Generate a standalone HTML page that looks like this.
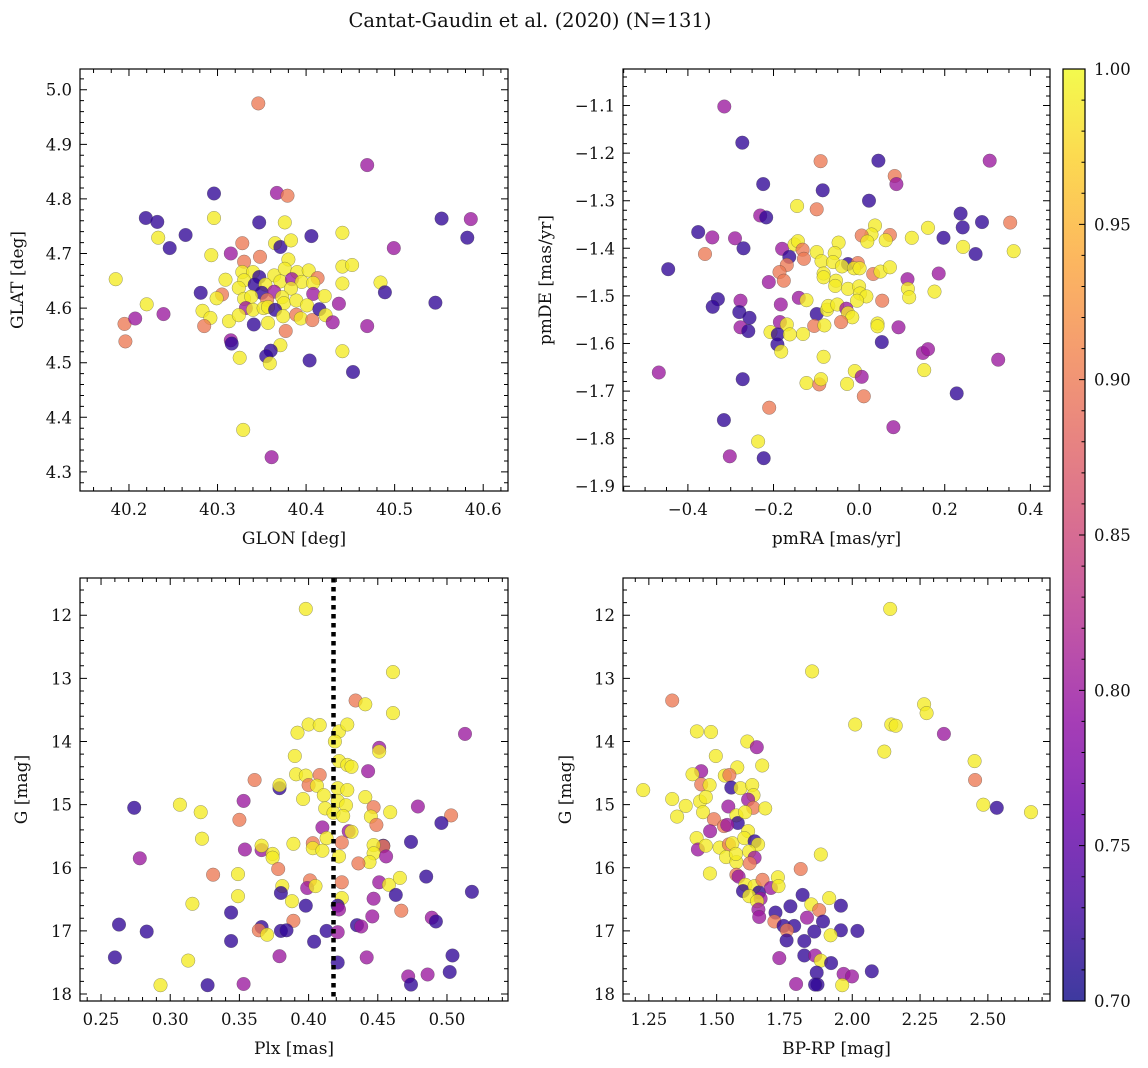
<!DOCTYPE html>
<html><head><meta charset="utf-8">
<style>
html,body{margin:0;padding:0;background:#fff;}
svg{display:block;font-family:"DejaVu Serif","Liberation Serif",serif;}
</style></head>
<body>
<svg id="fig" width="1148" height="1068" viewBox="0 0 1148 1068" xmlns="http://www.w3.org/2000/svg">
<rect width="1148" height="1068" fill="#fff"/>
<text x="530" y="27" font-size="19.5" text-anchor="middle" fill="#111">Cantat-Gaudin et al. (2020) (N=131)</text>
</svg>
<script>
// ---- data (value arrays: x, y, membership probability) ----
const glon = [40.346,40.469,40.296,40.367,40.379,40.219,40.232,40.296,40.347,40.376,40.553,40.586,40.233,40.264,40.406,40.441,40.582,40.246,40.328,40.365,40.371,40.383,40.499,40.293,40.315,40.348,40.330,40.380,40.185,40.328,40.340,40.347,40.364,40.376,40.390,40.403,40.413,40.441,40.452,40.309,40.330,40.342,40.354,40.371,40.384,40.395,40.408,40.441,40.484,40.281,40.305,40.299,40.324,40.350,40.383,40.364,40.408,40.421,40.489,40.546,40.220,40.330,40.338,40.332,40.356,40.373,40.375,40.389,40.401,40.437,40.195,40.207,40.239,40.283,40.292,40.313,40.324,40.340,40.352,40.357,40.365,40.374,40.389,40.394,40.407,40.415,40.422,40.430,40.469,40.285,40.196,40.341,40.357,40.377,40.315,40.316,40.371,40.441,40.360,40.355,40.325,40.359,40.404,40.453,40.329,40.361];
const glat = [4.975,4.862,4.810,4.811,4.806,4.765,4.758,4.765,4.757,4.757,4.764,4.763,4.729,4.734,4.732,4.738,4.729,4.710,4.719,4.719,4.712,4.724,4.710,4.697,4.700,4.694,4.685,4.689,4.653,4.666,4.666,4.657,4.660,4.672,4.666,4.669,4.655,4.676,4.679,4.652,4.651,4.643,4.643,4.649,4.653,4.648,4.646,4.645,4.647,4.628,4.625,4.618,4.637,4.628,4.636,4.630,4.626,4.622,4.629,4.610,4.607,4.617,4.621,4.600,4.615,4.620,4.609,4.614,4.605,4.608,4.571,4.581,4.589,4.595,4.582,4.576,4.587,4.597,4.600,4.602,4.597,4.585,4.588,4.581,4.578,4.598,4.587,4.574,4.567,4.567,4.539,4.570,4.573,4.558,4.541,4.535,4.532,4.521,4.522,4.512,4.509,4.499,4.504,4.483,4.377,4.327];
const prob1 = [.9,.8,.72,.8,.9,.72,.72,.99,.72,.99,.72,.8,.99,.72,.72,.99,.72,.72,.9,.99,.72,.99,.8,.99,.8,.9,.9,.99,.99,.99,.99,.72,.99,.99,.99,.99,.9,.99,.99,.99,.99,.72,.99,.99,.8,.99,.99,.99,.99,.72,.9,.99,.99,.72,.99,.8,.8,.99,.72,.72,.99,.99,.99,.8,.9,.99,.99,.99,.99,.8,.9,.8,.8,.99,.99,.99,.99,.99,.99,.99,.72,.99,.9,.99,.9,.72,.99,.8,.8,.9,.9,.72,.99,.9,.8,.72,.99,.99,.72,.72,.99,.99,.72,.72,.99,.8];

const pmra = [-0.315,-0.273,-0.090,0.045,0.305,0.083,0.087,-0.224,-0.085,0.023,-0.145,-0.099,-0.231,-0.217,0.237,0.287,0.353,-0.376,-0.343,-0.290,0.037,0.161,0.242,0.029,0.006,0.072,0.123,0.197,0.019,0.062,-0.270,-0.180,-0.151,-0.143,-0.048,0.243,0.272,0.361,-0.360,-0.132,-0.129,-0.099,-0.163,-0.088,-0.057,-0.061,-0.026,-0.040,-0.003,-0.012,0.001,-0.169,-0.446,-0.186,-0.083,0.033,0.050,0.072,-0.211,-0.176,-0.083,-0.054,-0.056,-0.026,0.000,0.113,0.186,0.114,0.002,0.017,-0.005,0.117,0.176,0.054,-0.330,-0.342,-0.277,-0.183,-0.141,-0.123,-0.280,-0.256,-0.099,-0.075,-0.072,-0.051,-0.030,-0.026,-0.016,-0.277,-0.259,-0.185,-0.169,-0.105,-0.081,-0.042,0.043,0.043,0.092,-0.207,-0.190,-0.162,-0.131,-0.191,-0.182,0.053,-0.083,0.149,0.161,0.325,-0.468,-0.272,-0.010,0.006,0.152,-0.123,-0.093,-0.089,-0.028,0.011,0.228,-0.210,-0.316,0.080,-0.236,-0.302,-0.223];
const pmde = [-1.102,-1.178,-1.217,-1.216,-1.216,-1.248,-1.265,-1.265,-1.278,-1.300,-1.311,-1.318,-1.331,-1.335,-1.327,-1.345,-1.346,-1.366,-1.377,-1.379,-1.352,-1.357,-1.356,-1.371,-1.373,-1.372,-1.378,-1.378,-1.386,-1.383,-1.400,-1.401,-1.392,-1.385,-1.388,-1.397,-1.412,-1.406,-1.412,-1.403,-1.422,-1.408,-1.418,-1.427,-1.410,-1.429,-1.433,-1.438,-1.431,-1.442,-1.442,-1.435,-1.444,-1.450,-1.453,-1.454,-1.449,-1.440,-1.471,-1.468,-1.461,-1.468,-1.479,-1.485,-1.480,-1.465,-1.453,-1.485,-1.495,-1.501,-1.510,-1.503,-1.491,-1.510,-1.507,-1.523,-1.510,-1.518,-1.504,-1.509,-1.534,-1.546,-1.538,-1.529,-1.521,-1.518,-1.527,-1.536,-1.545,-1.566,-1.574,-1.555,-1.560,-1.563,-1.562,-1.555,-1.558,-1.564,-1.566,-1.576,-1.581,-1.581,-1.580,-1.602,-1.617,-1.597,-1.628,-1.620,-1.612,-1.634,-1.661,-1.675,-1.658,-1.670,-1.656,-1.683,-1.686,-1.675,-1.685,-1.711,-1.705,-1.735,-1.761,-1.776,-1.806,-1.837,-1.841];
const prob2 = [.8,.72,.9,.72,.8,.9,.8,.72,.72,.72,.99,.9,.8,.72,.72,.72,.9,.72,.8,.8,.99,.99,.72,.99,.9,.9,.99,.72,.99,.99,.72,.8,.99,.99,.99,.99,.72,.99,.9,.9,.9,.99,.72,.99,.99,.99,.72,.99,.9,.99,.99,.9,.72,.9,.99,.9,.99,.99,.8,.9,.99,.99,.99,.99,.99,.8,.8,.99,.99,.99,.99,.99,.99,.9,.72,.72,.8,.8,.8,.99,.72,.72,.72,.99,.99,.99,.8,.99,.99,.8,.72,.8,.99,.9,.99,.9,.99,.99,.8,.99,.72,.99,.99,.72,.99,.72,.99,.8,.8,.8,.8,.72,.99,.8,.99,.99,.9,.99,.99,.9,.72,.9,.72,.8,.99,.8,.72];

const plx = [0.398,0.461,0.434,0.441,0.461,0.513,0.392,0.400,0.408,0.422,0.428,0.419,0.451,0.451,0.390,0.422,0.428,0.431,0.443,0.361,0.379,0.379,0.391,0.398,0.408,0.400,0.406,0.411,0.396,0.421,0.428,0.441,0.353,0.274,0.307,0.322,0.350,0.412,0.421,0.427,0.418,0.425,0.447,0.445,0.459,0.479,0.503,0.496,0.410,0.449,0.429,0.431,0.323,0.413,0.389,0.403,0.424,0.474,0.278,0.354,0.366,0.366,0.374,0.374,0.403,0.410,0.422,0.454,0.454,0.447,0.447,0.456,0.444,0.436,0.331,0.349,0.378,0.401,0.399,0.405,0.381,0.380,0.424,0.451,0.458,0.466,0.485,0.463,0.518,0.316,0.349,0.388,0.398,0.424,0.421,0.447,0.422,0.344,0.389,0.446,0.467,0.489,0.492,0.263,0.283,0.366,0.364,0.370,0.380,0.384,0.413,0.421,0.435,0.438,0.344,0.404,0.260,0.313,0.379,0.442,0.504,0.421,0.502,0.472,0.486,0.474,0.293,0.327,0.353];
const gmag3 = [11.90,12.90,13.35,13.41,13.55,13.88,13.86,13.73,13.74,13.84,13.73,14.00,14.10,14.16,14.23,14.31,14.37,14.40,14.47,14.61,14.74,14.69,14.52,14.54,14.53,14.69,14.70,14.85,14.91,14.74,14.77,14.88,14.94,15.05,15.00,15.12,15.24,15.06,14.94,15.01,15.13,15.18,15.04,15.19,15.12,15.03,15.17,15.29,15.36,15.32,15.42,15.43,15.54,15.53,15.62,15.61,15.60,15.59,15.85,15.71,15.72,15.65,15.78,15.84,15.69,15.73,15.82,15.65,15.66,15.64,15.77,15.82,15.91,15.93,16.11,16.10,16.02,16.20,16.32,16.29,16.29,16.40,16.23,16.23,16.27,16.16,16.14,16.43,16.38,16.57,16.45,16.53,16.60,16.48,16.60,16.49,16.66,16.71,16.84,16.77,16.68,16.79,16.85,16.90,17.01,16.94,16.99,17.06,17.00,16.99,17.00,17.02,16.91,16.93,17.16,17.17,17.42,17.47,17.40,17.42,17.39,17.50,17.65,17.72,17.69,17.85,17.86,17.86,17.84];
const prob3 = [.99,.99,.9,.99,.99,.8,.99,.99,.99,.99,.99,.99,.8,.99,.99,.99,.99,.99,.8,.9,.72,.99,.99,.99,.9,.9,.99,.99,.99,.99,.99,.99,.8,.72,.99,.99,.9,.99,.99,.99,.99,.99,.9,.99,.99,.8,.9,.72,.8,.9,.8,.99,.99,.99,.99,.9,.9,.72,.8,.8,.8,.99,.99,.99,.99,.99,.99,.72,.9,.99,.99,.8,.99,.9,.9,.99,.9,.9,.8,.99,.99,.72,.9,.8,.99,.99,.72,.72,.72,.99,.99,.99,.72,.99,.72,.8,.8,.72,.9,.8,.9,.8,.72,.72,.72,.72,.9,.99,.72,.72,.72,.8,.72,.8,.72,.72,.72,.99,.8,.8,.72,.72,.72,.8,.8,.72,.99,.72,.8];

const bprp = [2.140,1.852,1.336,2.265,2.274,2.011,2.144,2.160,2.338,1.427,1.479,1.613,1.648,2.118,1.497,2.451,1.576,1.668,1.443,1.411,1.530,1.547,1.443,1.474,1.554,1.588,1.631,1.636,2.453,1.229,1.336,1.386,1.439,1.460,1.616,1.635,1.543,1.679,2.483,2.533,2.659,1.354,1.450,1.490,1.573,1.578,1.605,1.527,1.539,1.476,1.616,1.426,1.431,1.460,1.511,1.545,1.558,1.602,1.640,1.653,1.535,1.573,1.571,1.620,1.640,1.622,1.884,1.475,1.810,1.573,1.581,1.606,1.597,1.640,1.656,1.669,1.700,1.726,1.728,1.620,1.662,1.649,1.817,1.915,1.958,1.849,1.878,1.772,1.654,1.717,1.657,1.833,1.892,1.713,1.747,1.786,1.759,1.860,1.958,2.019,1.920,1.758,1.823,1.731,1.823,1.863,1.884,1.922,1.869,2.072,1.968,1.999,1.793,1.872,1.863,1.963];
const gmag4 = [11.90,12.89,13.35,13.41,13.55,13.73,13.73,13.75,13.88,13.84,13.85,14.00,14.09,14.16,14.23,14.31,14.41,14.38,14.47,14.52,14.54,14.53,14.68,14.69,14.73,14.74,14.69,14.85,14.61,14.77,14.91,15.02,14.95,14.88,14.92,15.05,15.03,15.06,15.00,15.05,15.12,15.19,15.12,15.23,15.17,15.29,15.12,15.34,15.32,15.42,15.42,15.53,15.71,15.65,15.68,15.63,15.61,15.53,15.58,15.63,15.83,15.91,15.78,15.74,15.84,15.93,15.79,16.09,16.02,16.11,16.14,16.27,16.37,16.29,16.39,16.19,16.32,16.15,16.29,16.45,16.49,16.53,16.43,16.48,16.60,16.58,16.67,16.61,16.66,16.71,16.78,16.79,16.85,16.85,16.92,16.92,16.99,17.01,16.99,17.00,17.07,17.15,17.16,17.43,17.39,17.39,17.47,17.51,17.66,17.64,17.68,17.72,17.84,17.85,17.85,17.86];
const prob4 = [.99,.99,.9,.99,.99,.99,.99,.99,.8,.99,.99,.99,.8,.99,.99,.99,.99,.99,.8,.99,.99,.9,.9,.99,.72,.99,.99,.99,.9,.99,.99,.99,.99,.99,.8,.9,.8,.99,.99,.72,.99,.99,.99,.9,.99,.72,.99,.9,.8,.8,.99,.99,.8,.99,.99,.9,.99,.99,.72,.99,.99,.99,.99,.99,.8,.9,.99,.99,.9,.9,.8,.99,.72,.99,.72,.9,.8,.99,.99,.99,.8,.99,.72,.99,.72,.99,.9,.72,.8,.72,.8,.8,.72,.9,.72,.72,.9,.72,.72,.72,.99,.72,.72,.8,.72,.8,.99,.72,.72,.72,.8,.8,.8,.72,.72,.99];

const plxMedian = 0.418;
const cbarTicks = [0.70,0.75,0.80,0.85,0.90,0.95,1.00];

// ---- rendering ----
const NS = "http://www.w3.org/2000/svg";
const svg = document.getElementById('fig');
function mk(tag, attrs, parent){ const e=document.createElementNS(NS,tag); for(const k in attrs) e.setAttribute(k,attrs[k]); (parent||svg).appendChild(e); return e; }

const stops = ["#0d0887","#41049d","#6a00a8","#8f0da4","#b12a90","#cc4778","#e16462","#f2844b","#fca636","#fcce25","#f0f921"];
function hx(c){return [parseInt(c.slice(1,3),16),parseInt(c.slice(3,5),16),parseInt(c.slice(5,7),16)];}
function plasma(t){ t=Math.max(0,Math.min(1,t)); const f=t*10, i=Math.min(9,Math.floor(f)), u=f-i; const a=hx(stops[i]), b=hx(stops[i+1]); return `rgb(${a.map((v,k)=>Math.round(v+(b[k]-v)*u)).join(',')})`; }
function pcol(p){ return plasma((p-0.7)/0.3); }

function fmt(v,d){ return v.toFixed(d).replace('-', '\u2212'); }

function panel(cfg){
  const {name,L,R,T,B,x0,x1,y0,y1,xMaj,xMin,yMaj,yMin,xd,yd,xlabel,ylabel,ylabX,xs,ys,ps} = cfg;
  const g = mk('g',{});
  
  
  const sx = v => L + (v-x0)/(x1-x0)*(R-L);
  const sy = v => T + (v-y0)/(y1-y0)*(B-T);
  const pg = mk('g',{},g);
  
  
  for(let i=0;i<xs.length;i++){
    const c = mk('circle',{cx:sx(xs[i]).toFixed(1),cy:sy(ys[i]).toFixed(1),r:6.8,fill:pcol(ps[i]),'fill-opacity':0.78,stroke:'#444','stroke-opacity':0.55,'stroke-width':0.5},pg);
    
    
  }
  if(cfg.extra) cfg.extra(g,sx,sy);
  const fr = mk('rect',{x:L,y:T,width:R-L,height:B-T,fill:'none',stroke:'#000','stroke-width':1.2},g);
  
  
  const lo=Math.min(x0,x1), hi=Math.max(x0,x1), ylo=Math.min(y0,y1), yhi=Math.max(y0,y1);
  const eps=1e-9;
  function each(step,a,b,fn){ for(let v=Math.ceil((a-eps)/step)*step; v<=b+eps; v+=step) fn(v); }
  let d='';
  each(xMin,lo,hi,v=>{const X=sx(v); d+=`M${X},${B}v-4M${X},${T}v4`;});
  each(xMaj,lo,hi,v=>{const X=sx(v); d+=`M${X},${B}v-7M${X},${T}v7`;});
  each(yMin,ylo,yhi,v=>{const Y=sy(v); d+=`M${L},${Y}h4M${R},${Y}h-4`;});
  each(yMaj,ylo,yhi,v=>{const Y=sy(v); d+=`M${L},${Y}h7M${R},${Y}h-7`;});
  const tk = mk('path',{d,stroke:'#000','stroke-width':1,fill:'none'},g);
  
  
  each(xMaj,lo,hi,v=>{
    const t = mk('text',{x:sx(v),y:B+24,'font-size':16.5,'text-anchor':'middle',fill:'#111'},g);
    t.textContent = fmt(v,xd);
    
    
  });
  each(yMaj,ylo,yhi,v=>{
    const t = mk('text',{x:L-8,y:sy(v)+6,'font-size':16.5,'text-anchor':'end',fill:'#111'},g);
    t.textContent = fmt(v,yd);
    
    
  });
  const xl = mk('text',{x:(L+R)/2,y:B+53,'font-size':17,'text-anchor':'middle',fill:'#111'},g);
  xl.textContent = xlabel;
  
  
  const yl = mk('text',{x:ylabX,y:(T+B)/2,'font-size':17,'text-anchor':'middle',fill:'#111',transform:`rotate(-90 ${ylabX} ${(T+B)/2})`},g);
  yl.textContent = ylabel;
  
  
}

panel({name:'glon-glat-panel',L:80,R:508,T:69,B:491,x0:40.1447,x1:40.6280,y0:5.038,y1:4.265,xMaj:0.1,xMin:0.02,yMaj:0.1,yMin:0.02,xd:1,yd:1,xlabel:'GLON [deg]',ylabel:'GLAT [deg]',ylabX:23,xs:glon,ys:glat,ps:prob1});
panel({name:'proper-motion-panel',L:623,R:1050,T:69,B:491,x0:-0.5516,x1:0.4459,y0:-1.0232,y1:-1.9100,xMaj:0.2,xMin:0.05,yMaj:0.1,yMin:0.02,xd:1,yd:1,xlabel:'pmRA [mas/yr]',ylabel:'pmDE [mas/yr]',ylabX:551,xs:pmra,ys:pmde,ps:prob2});
panel({name:'parallax-mag-panel',L:80,R:508,T:578,B:1001,x0:0.2348,x1:0.5441,y0:11.41,y1:18.11,xMaj:0.05,xMin:0.01,yMaj:1,yMin:0.2,xd:2,yd:0,xlabel:'Plx [mas]',ylabel:'G [mag]',ylabX:27,xs:plx,ys:gmag3,ps:prob3,
  extra:(g,sx,sy)=>{ const X=sx(plxMedian); const l=mk('line',{x1:X,y1:578,x2:X,y2:1001,stroke:'#000','stroke-width':4.5,'stroke-dasharray':'4.5 4.5'},g);
    
     }});
panel({name:'color-mag-panel',L:623,R:1050,T:578,B:1001,x0:1.1547,x1:2.7291,y0:11.41,y1:18.11,xMaj:0.25,xMin:0.05,yMaj:1,yMin:0.2,xd:2,yd:0,xlabel:'BP-RP [mag]',ylabel:'G [mag]',ylabX:571,xs:bprp,ys:gmag4,ps:prob4});

(function(){
  const L=1063,R=1085,T=69,B=1001;
  const g = mk('g',{});
  
  
  const defs = mk('defs',{},g);
  const lg = mk('linearGradient',{id:'cb',x1:0,y1:1,x2:0,y2:0},defs);
  for(let i=0;i<=20;i++){ mk('stop',{offset:(i/20),'stop-color':plasma(i/20),'stop-opacity':0.8},lg); }
  mk('rect',{x:L,y:T,width:R-L,height:B-T,fill:'url(#cb)'},g);
  mk('rect',{x:L,y:T,width:R-L,height:B-T,fill:'none',stroke:'#000','stroke-width':1.2},g);
  const sy = v => B - (v-0.7)/0.3*(B-T);
  let d='';
  for(let k=0;k<=30;k++){ const v=0.7+k*0.01; const Y=sy(v); d+= (k%5===0)?`M${R},${Y}h-6`:`M${R},${Y}h-3.5`; }
  mk('path',{d,stroke:'#000','stroke-width':1},g);
  cbarTicks.forEach(v=>{
    const t = mk('text',{x:R+9,y:sy(v)+6,'font-size':16.5,fill:'#111'},g);
    t.textContent = v.toFixed(2);
    
    
  });
})();
</script>
</body></html>
